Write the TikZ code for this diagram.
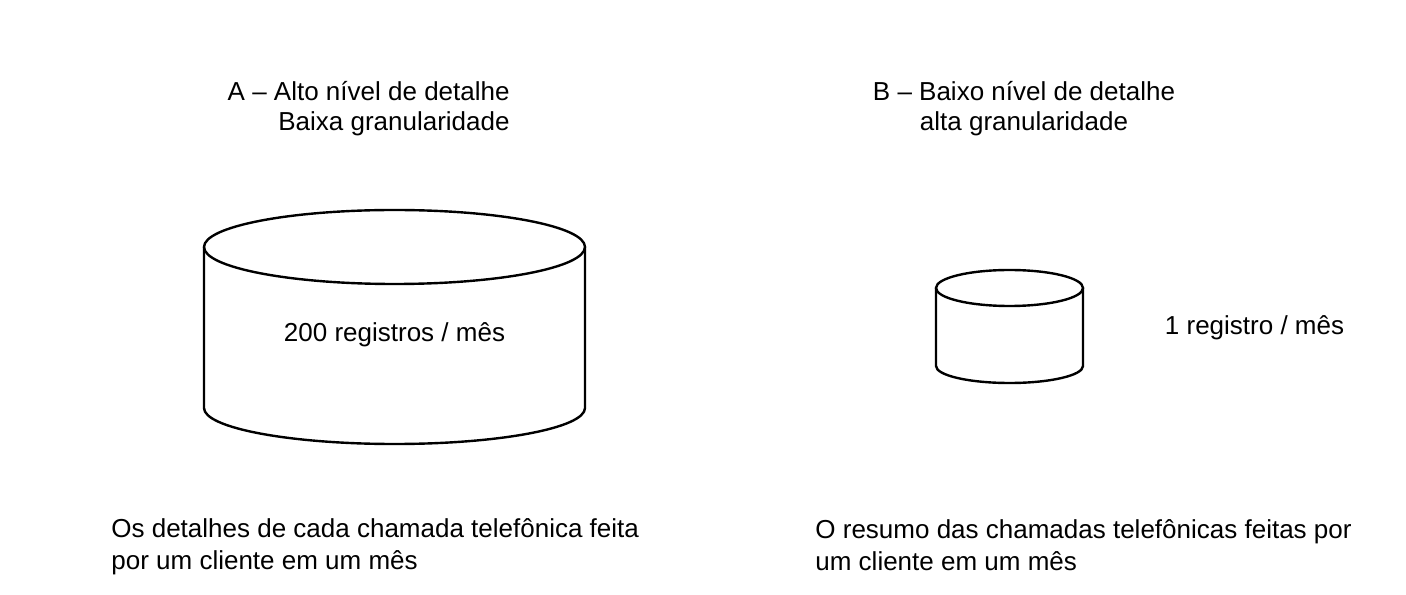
\documentclass[tikz,border=0pt]{standalone}
\usepackage{fontspec}
\setmainfont{Liberation Sans}
\usetikzlibrary{positioning}

\begin{document}
\begin{tikzpicture}[x=0.5pt, y=0.5pt,
  every node/.style={inner sep=0pt, font=\fontsize{13}{15}\selectfont},
  desc/.style={align=left, anchor=west, font=\fontsize{13}{16}\selectfont},
  cyl/.style={draw=black, line width=1.2pt}]
\useasboundingbox (0,0) rectangle (1406,594);

% Titulos
\node[align=right, anchor=east] (titA) at (510,485.5) {A -- Alto nível de detalhe\\Baixa granularidade};
\node[align=center] (titB) at (1024,485.5) {B -- Baixo nível de detalhe\\alta granularidade};

% Cilindro A
\draw[cyl] (394.5,347) ellipse [x radius=190.5, y radius=37];
\draw[cyl] (204,347) -- (204,186) arc[start angle=180, end angle=360, x radius=190.5, y radius=36] -- (585,347);
\node (regA) at (394.5,259) {200 registros / mês};

% Cilindro B
\draw[cyl] (1009.5,306) ellipse [x radius=73.5, y radius=18];
\draw[cyl] (936,306) -- (936,228) arc[start angle=180, end angle=360, x radius=73.5, y radius=17] -- (1083,306);
\node (regB) at (1254.5,266.5) {1 registro / mês};

% Descricoes
\node[desc] (descA) at (111,47) {Os detalhes de cada chamada telefônica feita\\por um cliente em um mês};
\node[desc] (descB) at (815,48.5) {O resumo das chamadas telefônicas feitas por\\um cliente em um mês};

\end{tikzpicture}
\end{document}
